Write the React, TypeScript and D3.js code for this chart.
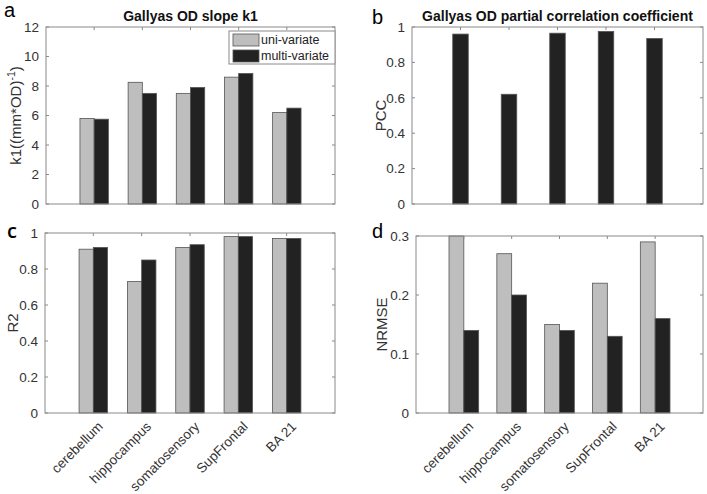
import * as d3 from 'd3';
import React from 'react';

const width = 707;
const height = 494;
const gray = '#bebebe';
const dark = '#222222';
const axisColor = '#8a8a8a';
const font = '"Liberation Sans", Arial, sans-serif';

const regions = ['cerebellum', 'hippocampus', 'somatosensory', 'SupFrontal', 'BA 21'];

// panel a: slope k1
const k1Uni = [5.8, 8.25, 7.5, 8.6, 6.2];
const k1Multi = [5.75, 7.5, 7.9, 8.85, 6.5];
const k1Ticks = [0, 2, 4, 6, 8, 10, 12];

// panel b: partial correlation coefficient
const pcc = [0.96, 0.62, 0.965, 0.975, 0.935];
const unitTicks = [0, 0.2, 0.4, 0.6, 0.8, 1];

// panel c: R2
const r2Uni = [0.91, 0.73, 0.92, 0.98, 0.97];
const r2Multi = [0.92, 0.85, 0.935, 0.98, 0.97];

// panel d: NRMSE
const nrmseUni = [0.3, 0.27, 0.15, 0.22, 0.29];
const nrmseMulti = [0.14, 0.2, 0.14, 0.13, 0.16];
const nrmseTicks = [0, 0.1, 0.2, 0.3];

const legendLabels = ['uni-variate', 'multi-variate'];

type PanelProps = {
  box: { left: number; right: number; top: number; bottom: number };
  series: number[][];
  colors: string[];
  yMax: number;
  ticks: number[];
  ylabel: React.ReactNode;
  ylabelX: number;
  title?: string;
  letter: string;
  letterPos: [number, number];
  letterFont?: string;
  letterWeight?: string;
  showXLabels?: boolean;
  barWidth: number; // fraction of one category step
  legend?: boolean;
};

function Panel(p: PanelProps) {
  const { box } = p;
  const x = d3.scaleLinear().domain([0, 6]).range([box.left, box.right]);
  const y = d3.scaleLinear().domain([0, p.yMax]).range([box.bottom, box.top]);
  const step = x(1) - x(0);
  const bw = step * p.barWidth;
  const n = p.series.length;
  const fmt = (v: number) => d3.format('~g')(v);

  return (
    <g>
      {p.series.map((vals, si) =>
        vals.map((v, i) => {
          const cx = x(i + 1);
          const bx = cx - (n * bw) / 2 + si * bw;
          return (
            <rect key={`${si}-${i}`} x={bx} y={y(v)} width={bw} height={y(0) - y(v)}
              fill={p.colors[si]} stroke="#555" strokeWidth={0.8} />
          );
        })
      )}
      <rect x={box.left} y={box.top} width={box.right - box.left} height={box.bottom - box.top}
        fill="none" stroke={axisColor} strokeWidth={1} />
      {p.ticks.map(t => (
        <g key={t}>
          <line x1={box.left} x2={box.left + 3} y1={y(t)} y2={y(t)} stroke={axisColor} />
          <line x1={box.right} x2={box.right - 3} y1={y(t)} y2={y(t)} stroke={axisColor} />
          <text x={box.left - 7} y={y(t)} dy="0.35em" textAnchor="end" fontSize={13.5}
            fill="#333" fontFamily={font}>{fmt(t)}</text>
        </g>
      ))}
      {regions.map((r, i) => (
        <line key={r} x1={x(i + 1)} x2={x(i + 1)} y1={box.top} y2={box.top + 3} stroke={axisColor} />
      ))}
      {p.showXLabels &&
        regions.map((r, i) => (
          <text key={r} transform={`translate(${x(i + 1) + 7},${box.bottom + 11}) rotate(-45)`}
            textAnchor="end" dy="0.35em" fontSize={13.5} fill="#333" fontFamily={font}>{r}</text>
        ))}
      <text transform={`translate(${p.ylabelX},${(box.top + box.bottom) / 2}) rotate(-90)`}
        textAnchor="middle" fontSize={15} fill="#333" fontFamily={font}>{p.ylabel}</text>
      {p.title && (
        <text x={(box.left + box.right) / 2} y={21} textAnchor="middle" fontSize={14}
          fontWeight="bold" fill="#111" fontFamily={font}>{p.title}</text>
      )}
      <text x={p.letterPos[0]} y={p.letterPos[1]} fontSize={20} fill="#000"
        fontWeight={p.letterWeight || 'normal'} fontFamily={p.letterFont || font}>{p.letter}</text>
      {p.legend && (
        <g>
          <rect x={229} y={31} width={106} height={33} fill="#fff" stroke={axisColor} />
          {legendLabels.map((l, i) => (
            <g key={l}>
              <rect x={233} y={34 + i * 16} width={26} height={12} fill={p.colors[i]} stroke="#555" strokeWidth={0.8} />
              <text x={261} y={40 + i * 16} dy="0.35em" fontSize={12.5} fill="#222" fontFamily={font}>{l}</text>
            </g>
          ))}
        </g>
      )}
    </g>
  );
}

export default function App() {
  return (
    <svg width={width} height={height} style={{ position: 'absolute', left: 0, top: 0, background: '#fff' }}>
      <Panel
        box={{ left: 46, right: 335, top: 27, bottom: 204 }}
        series={[k1Uni, k1Multi]}
        colors={[gray, dark]}
        yMax={12}
        ticks={k1Ticks}
        ylabel={<>k1((mm*OD)<tspan dy={-6} fontSize={10.5}>-1</tspan><tspan dy={6}>)</tspan></>}
        ylabelX={21}
        title="Gallyas OD slope k1"
        letter="a"
        letterPos={[4, 17]}
        barWidth={0.295}
        legend
      />
      <Panel
        box={{ left: 412, right: 703, top: 27, bottom: 204 }}
        series={[pcc]}
        colors={[dark]}
        yMax={1}
        ticks={unitTicks}
        ylabel="PCC"
        ylabelX={386}
        title="Gallyas OD partial correlation coefficient"
        letter="b"
        letterPos={[372, 24]}
        barWidth={0.32}
      />
      <Panel
        box={{ left: 45, right: 335, top: 233, bottom: 413 }}
        series={[r2Uni, r2Multi]}
        colors={[gray, dark]}
        yMax={1}
        ticks={unitTicks}
        ylabel="R2"
        ylabelX={18}
        letter="c"
        letterPos={[7, 238]}
        letterFont='"Open Sans", sans-serif'
        letterWeight="600"
        barWidth={0.295}
        showXLabels
      />
      <Panel
        box={{ left: 416, right: 703, top: 236, bottom: 413 }}
        series={[nrmseUni, nrmseMulti]}
        colors={[gray, dark]}
        yMax={0.3}
        ticks={nrmseTicks}
        ylabel="NRMSE"
        ylabelX={387}
        letter="d"
        letterPos={[372, 238]}
        barWidth={0.31}
        showXLabels
      />
    </svg>
  );
}
